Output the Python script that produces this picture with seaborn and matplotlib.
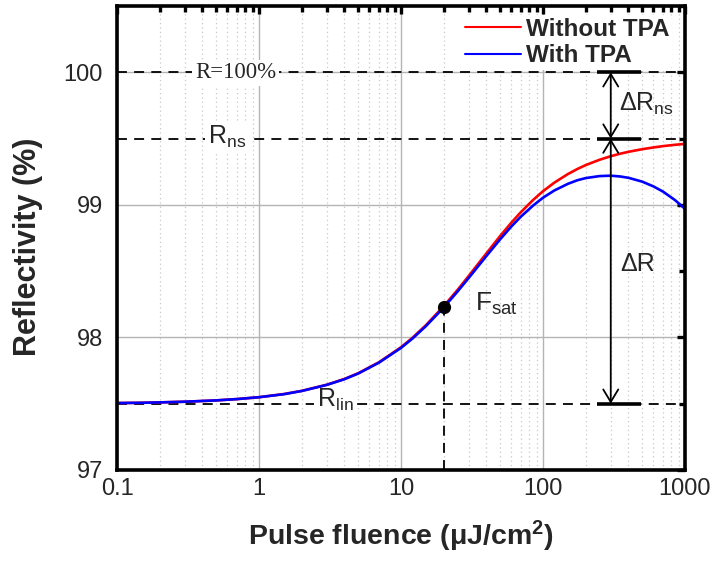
import numpy as np
import pandas as pd
import matplotlib
matplotlib.use("Agg")
import matplotlib.pyplot as plt
import seaborn as sns
from matplotlib.ticker import FixedLocator, FixedFormatter, LogLocator, NullFormatter, MultipleLocator

# ---------------- data ----------------
fluence = [0.1, 0.15, 0.2, 0.3, 0.5, 0.7, 1, 1.5, 2, 3, 4, 5, 7, 10, 12, 15, 20,
           25, 30, 40, 50, 60, 70, 85, 100, 120, 150, 175, 200, 250, 300, 350,
           400, 500, 600, 700, 850, 1000]
refl_without_tpa = [97.505, 97.507, 97.510, 97.515, 97.525, 97.535, 97.549,
                    97.573, 97.597, 97.643, 97.687, 97.730, 97.813, 97.926,
                    97.996, 98.093, 98.236, 98.358, 98.464, 98.635, 98.766,
                    98.867, 98.946, 99.036, 99.103, 99.167, 99.233, 99.271,
                    99.300, 99.340, 99.367, 99.386, 99.400, 99.420, 99.433,
                    99.443, 99.453, 99.460]
refl_with_tpa = [97.505, 97.507, 97.510, 97.515, 97.525, 97.535, 97.549,
                 97.572, 97.596, 97.642, 97.685, 97.728, 97.810, 97.921,
                 97.990, 98.086, 98.226, 98.346, 98.449, 98.615, 98.741,
                 98.838, 98.912, 98.994, 99.054, 99.108, 99.159, 99.186,
                 99.202, 99.217, 99.220, 99.214, 99.204, 99.175, 99.139,
                 99.100, 99.036, 98.970]
series_labels = ["Without TPA", "With TPA"]
series_colors = ["#ff0000", "#0000ff"]

x_ticks = [0.1, 1, 10, 100, 1000]
x_tick_labels = ["0.1", "1", "10", "100", "1000"]
y_ticks = [97, 98, 99, 100]
y_tick_labels = ["97", "98", "99", "100"]

R_full = 100.0
R_ns = 99.5
R_lin = 97.5
F_sat = 20
R_at_Fsat = 98.228
F_arrow = 300

# ---------------- style ----------------
sns.set_style("white")
plt.rcParams['font.family'] = ['Liberation Sans', 'DejaVu Sans']
plt.rcParams['mathtext.fontset'] = 'custom'
plt.rcParams['mathtext.rm'] = 'Liberation Sans'
plt.rcParams['mathtext.it'] = 'Liberation Sans:italic'
plt.rcParams['mathtext.bf'] = 'Liberation Sans:bold'

df = pd.DataFrame({
    "F": fluence * 2,
    "R": refl_without_tpa + refl_with_tpa,
    "series": [series_labels[0]] * len(fluence) + [series_labels[1]] * len(fluence),
})

fig = plt.figure(figsize=(7.13, 5.62), dpi=100)
ax = fig.add_axes([117 / 713, 92 / 562, 568 / 713, 464 / 562])

sns.lineplot(data=df, x="F", y="R", hue="series", hue_order=series_labels,
             palette=series_colors, linewidth=1.9, sort=False, estimator=None,
             ax=ax, zorder=5)

ax.set_xscale("log")
ax.set_xlim(0.1, 1000)
ax.set_ylim(97, 100.5)

ax.xaxis.set_major_locator(FixedLocator(x_ticks))
ax.xaxis.set_major_formatter(FixedFormatter(x_tick_labels))
ax.xaxis.set_minor_locator(LogLocator(base=10, subs=np.arange(2, 10)))
ax.xaxis.set_minor_formatter(NullFormatter())
ax.yaxis.set_major_locator(FixedLocator(y_ticks))
ax.yaxis.set_major_formatter(FixedFormatter(y_tick_labels))
ax.yaxis.set_minor_locator(MultipleLocator(0.5))

ax.grid(which="major", axis="both", color="#b4b4b4", lw=1.0, zorder=0)
ax.grid(which="minor", axis="x", color="#c8c8c8", lw=0.9, ls=(0, (1, 2.5)), zorder=0)
ax.set_axisbelow(True)

for sp in ax.spines.values():
    sp.set_linewidth(2.6)
    sp.set_color("black")
    sp.set_zorder(10)
ax.tick_params(which="both", direction="in", top=True, right=True,
               width=2.4, color="black")
ax.tick_params(which="major", length=6)
ax.tick_params(which="minor", length=4)
ax.tick_params(axis="x", which="major", labelsize=17, pad=6)
ax.tick_params(axis="y", which="major", labelsize=17, pad=10)

ax.set_xlabel(r"Pulse fluence ($\mathbf{\mu}$J/cm$^{\mathbf{2}}$)",
              fontsize=20.5, fontweight="bold", labelpad=13)
ax.set_ylabel("Reflectivity (%)", fontsize=22, fontweight="bold")
ax.yaxis.set_label_coords(-0.130, 0.48)

# dashed reference levels
dash = (0, (5.5, 4))
for lvl in (R_full, R_ns, R_lin):
    ax.axhline(lvl, color="black", lw=1.3, ls=dash, zorder=3)
ax.plot([F_sat, F_sat], [97, R_at_Fsat], color="black", lw=1.3, ls=dash, zorder=3)
ax.plot([F_sat], [R_at_Fsat], "o", color="black", ms=8.5, zorder=8)

# bars and arrows
for lvl in (R_full, R_ns, R_lin):
    ax.plot([240, 490], [lvl, lvl], color="black", lw=2.6, zorder=6,
            solid_capstyle="butt")
arrow_kw = dict(arrowstyle="<->,head_length=0.5,head_width=0.3", color="black",
                lw=1.3, shrinkA=0, shrinkB=0, mutation_scale=18)
ax.annotate("", xy=(F_arrow, R_full), xytext=(F_arrow, R_ns),
            arrowprops=arrow_kw, zorder=7)
ax.annotate("", xy=(F_arrow, R_ns), xytext=(F_arrow, R_lin),
            arrowprops=arrow_kw, zorder=7)

# text labels
box = dict(fc="white", ec="none", pad=2)
ax.text(0.354, 99.955, "R=100%", fontsize=16.5, family=["Liberation Serif"],
        ha="left", va="baseline", bbox=box, zorder=4)
ax.text(0.437, 99.459, r"R$_{\mathrm{ns}}$", fontsize=18, ha="left",
        va="baseline", bbox=box, zorder=4)
ax.text(2.56, 97.474, r"R$_{\mathrm{lin}}$", fontsize=18, ha="left",
        va="baseline", bbox=box, zorder=4)
ax.text(33.2, 98.203, r"F$_{\mathrm{sat}}$", fontsize=19, ha="left",
        va="baseline", zorder=9)
ax.text(343, 99.707, r"ΔR$_{\mathrm{ns}}$", fontsize=18, ha="left",
        va="baseline", zorder=9)
ax.text(348, 98.504, "ΔR", fontsize=18, ha="left", va="baseline", zorder=9)

# legend
leg = ax.legend(loc="upper right", bbox_to_anchor=(0.993, 1.0), frameon=True,
                fontsize=17.5, handlelength=2.3, handletextpad=0.22,
                labelspacing=0.15, borderpad=0.1, borderaxespad=0.38)
leg.get_frame().set_facecolor("white")
leg.get_frame().set_edgecolor("none")
leg.get_frame().set_alpha(1)
leg.set_zorder(12)
for t in leg.get_texts():
    t.set_fontweight("bold")
for h in leg.get_lines():
    h.set_linewidth(1.5)

fig.savefig("out.png", dpi=100)
